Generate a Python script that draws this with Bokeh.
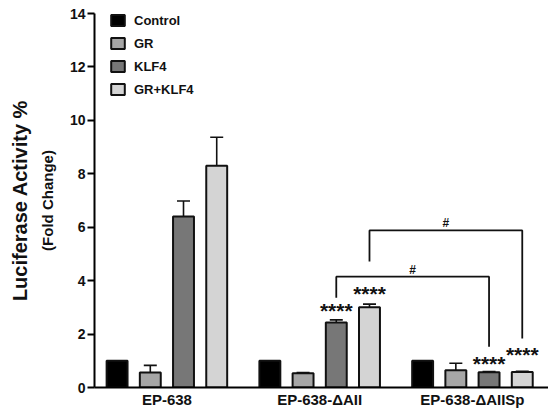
from bokeh.plotting import figure
from bokeh.models import (ColumnDataSource, Whisker, TeeHead, Legend, LegendItem,
                          FixedTicker, Range1d, Title)
from bokeh.core.properties import value
from bokeh.embed import file_html
from bokeh.resources import INLINE

# ---------------- data ----------------
groups = ["EP-638", "EP-638-ΔAII", "EP-638-ΔAIISp"]
series = ["Control", "GR", "KLF4", "GR+KLF4"]
control = [1.0, 1.0, 1.0]
gr = [0.56, 0.53, 0.65]
klf4 = [6.4, 2.43, 0.57]
gr_klf4 = [8.3, 3.0, 0.58]
control_err = [0.0, 0.0, 0.0]
gr_err = [0.27, 0.03, 0.26]
klf4_err = [0.58, 0.10, 0.03]
gr_klf4_err = [1.07, 0.12, 0.03]
y_ticks = [0, 2, 4, 6, 8, 10, 12, 14]

# significance marks: (group index, series index, label, y)
stars = [(1, 2, "****", 2.88), (1, 3, "****", 3.51), (2, 2, "****", 0.89), (2, 3, "****", 1.23)]
# brackets: (group a, series a, y a, group b, series b, y b, top)
brackets = [(1, 2, 3.36, 2, 2, 1.53, 4.15), (1, 3, 4.72, 2, 3, 1.83, 5.88)]
bracket_labels = ["#", "#"]

colors = ["#000000", "#a6a6a6", "#777777", "#d4d4d4"]
FONT = "Liberation Sans"
GSTEP = 4.6
BAR_W = 0.63

values = [control, gr, klf4, gr_klf4]
errors = [control_err, gr_err, klf4_err, gr_klf4_err]

def xpos(g, s):
    return g * GSTEP + s

p = figure(width=548, height=410, output_backend="svg", toolbar_location=None,
           x_range=Range1d(-0.68, 12.99), y_range=Range1d(0, 14),
           min_border_left=94, min_border_right=0, min_border_top=13, min_border_bottom=18)
p.outline_line_color = None
p.xgrid.visible = False
p.ygrid.visible = False

renderers = []
for s, name in enumerate(series):
    xs = [xpos(g, s) for g in range(len(groups))]
    src = ColumnDataSource(dict(x=xs, top=values[s],
                                upper=[v + e for v, e in zip(values[s], errors[s])],
                                lower=[v - e for v, e in zip(values[s], errors[s])]))
    r = p.vbar(x="x", top="top", width=BAR_W, source=src, fill_color=colors[s],
               line_color="#111111", line_width=2)
    renderers.append(r)
    if any(e > 0 for e in errors[s]):
        w = Whisker(base="x", upper="upper", lower="lower", source=src,
                    line_color="#111111", line_width=1.6,
                    upper_head=TeeHead(size=13, line_width=1.6, line_color="#111111"),
                    lower_head=TeeHead(size=13, line_width=1.6, line_color="#111111"))
        p.add_layout(w)

# stars
p.text(x=[xpos(g, s) for g, s, _, _ in stars], y=[y for _, _, _, y in stars],
       text=[t for _, _, t, _ in stars], text_align="center", text_baseline="alphabetic",
       text_font=value(FONT), text_font_style="bold", text_font_size="21px", text_color="#111111")

# brackets
bx, by, lx, ly = [], [], [], []
for (ga, sa, ya, gb, sb, yb, top), lab in zip(brackets, bracket_labels):
    xa, xb = xpos(ga, sa), xpos(gb, sb)
    bx.append([xa, xa, xb, xb])
    by.append([ya, top, top, yb])
    lx.append((xa + xb) / 2)
    ly.append(top + 0.26)
p.multi_line(bx, by, line_color="#111111", line_width=1.8)
p.text(x=lx, y=ly, text=bracket_labels, text_align="center", text_baseline="alphabetic",
       text_font=value(FONT), text_font_style="bold", text_font_size="12px", text_color="#111111")

# axes
p.yaxis.ticker = FixedTicker(ticks=y_ticks)
p.yaxis.minor_tick_line_color = None
p.yaxis.major_tick_in = 0
p.yaxis.major_tick_out = 7
p.yaxis.major_tick_line_width = 2
p.yaxis.axis_line_width = 2
p.yaxis.major_label_text_font = FONT
p.yaxis.major_label_text_font_style = "bold"
p.yaxis.major_label_text_font_size = "14px"
p.yaxis.major_label_text_color = "#111111"
p.yaxis.major_label_standoff = 2
p.yaxis.axis_label = "(Fold Change)"
p.yaxis.axis_label_text_font = FONT
p.yaxis.axis_label_text_font_style = "bold"
p.yaxis.axis_label_text_font_size = "15px"
p.yaxis.axis_label_text_color = "#111111"
p.yaxis.axis_label_standoff = 11

centers = [xpos(g, 1.5) for g in range(len(groups))]
p.xaxis.ticker = FixedTicker(ticks=centers)
p.xaxis.major_label_overrides = {c: lab for c, lab in zip(centers, groups)}
p.xaxis.minor_tick_line_color = None
p.xaxis.major_tick_line_color = None
p.xaxis.major_tick_in = 0
p.xaxis.major_tick_out = 0
p.xaxis.axis_line_width = 2
p.xaxis.major_label_text_font = FONT
p.xaxis.major_label_text_font_style = "bold"
p.xaxis.major_label_text_font_size = "15px"
p.xaxis.major_label_text_color = "#111111"
p.xaxis.major_label_standoff = 3

t = Title(text="Luciferase Activity %", align="center", text_font=FONT, text_font_style="bold",
          text_font_size="20px", text_color="#111111")
p.add_layout(t, "left")

legend = Legend(items=[LegendItem(label=n, renderers=[r]) for n, r in zip(series, renderers)],
                location=(15, 290), margin=0, padding=0, spacing=7,
                glyph_width=17, glyph_height=14, label_height=16, label_standoff=8,
                label_text_font=FONT, label_text_font_style="bold", label_text_font_size="13px",
                label_text_baseline="middle", label_text_color="#111111",
                background_fill_alpha=0, border_line_color=None)
p.add_layout(legend)

open("out.html", "w").write(file_html(p, INLINE))
